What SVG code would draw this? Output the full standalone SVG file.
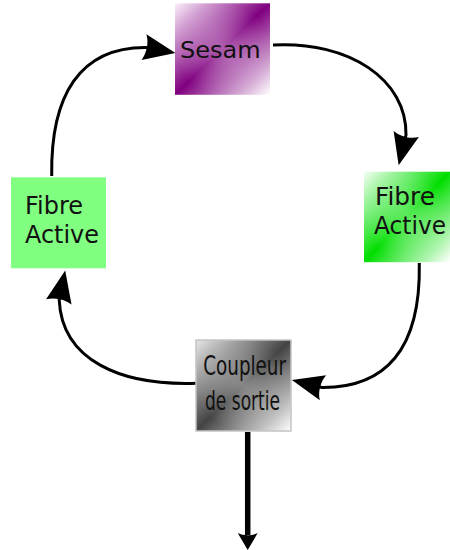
<svg xmlns="http://www.w3.org/2000/svg" width="450" height="550" viewBox="0 0 450 550">
  <style>
    .lbl { font-family: "DejaVu Sans", "Liberation Sans", sans-serif; fill: #111; }
    .cond { font-family: "DejaVu Sans Condensed", "DejaVu Sans", "Liberation Sans", sans-serif; font-stretch: condensed; fill: #111; }
    .conn { fill: none; stroke: #000; stroke-width: 3; }
    .out { fill: none; stroke: #000; stroke-width: 5.5; }
  </style>
  <defs>
    <linearGradient id="gPurple" x1="0" y1="0" x2="1" y2="1">
      <stop offset="0" stop-color="#fbf0fb"/>
      <stop offset="0.5" stop-color="#800080"/>
      <stop offset="1" stop-color="#ffffff"/>
    </linearGradient>
    <linearGradient id="gGreen" x1="0" y1="0" x2="1" y2="1">
      <stop offset="0" stop-color="#f4fff4"/>
      <stop offset="0.5" stop-color="#00de00"/>
      <stop offset="1" stop-color="#ffffff"/>
    </linearGradient>
    <linearGradient id="gGray" x1="0" y1="0" x2="1" y2="1">
      <stop offset="0" stop-color="#e6e6e6"/>
      <stop offset="0.5" stop-color="#444444"/>
      <stop offset="1" stop-color="#ffffff"/>
    </linearGradient>
    <radialGradient id="gGlow" cx="0.5" cy="0.5" r="0.5">
      <stop offset="0" stop-color="#ffffff" stop-opacity="0.35"/>
      <stop offset="1" stop-color="#ffffff" stop-opacity="0"/>
    </radialGradient>
    <marker id="arrow" markerUnits="userSpaceOnUse" orient="auto" refX="0" refY="0" markerWidth="40" markerHeight="40" overflow="visible">
      <path d="M27,0 L-5,-13 C-1,-5 -1,5 -5,13 Z" fill="#000"/>
    </marker>
    <marker id="arrowOut" markerUnits="userSpaceOnUse" orient="auto" refX="0" refY="0" markerWidth="30" markerHeight="30" overflow="visible">
      <path d="M15,0 L-2,-10 C1,-4 1,4 -2,10 Z" fill="#000"/>
    </marker>
  </defs>

  <g id="connectors">
    <path class="conn" d="M51.7,176 C50.5,95 80,47 146,47.5 l2.9,0.55" marker-end="url(#arrow)"/>
    <path class="conn" d="M273,45 C350,41 407,80 406,135 l-0.95,3.9" marker-end="url(#arrow)"/>
    <path class="conn" d="M419.3,263 C421,350 385,388 322,387.5 l-3.88,-0.97" marker-end="url(#arrow)"/>
    <path class="conn" d="M196.7,383.3 C120,386 62,360 59.2,300 l0.6,-2.94" marker-end="url(#arrow)"/>
    <path class="out" d="M247.7,432 L247.7,535" marker-end="url(#arrowOut)"/>
  </g>

  <g id="sesam">
    <rect x="175" y="3.3" width="95" height="91.5" fill="url(#gPurple)"/>
    <rect x="175" y="3.3" width="95" height="91.5" fill="url(#gGlow)"/>
    <text class="lbl" x="180" y="58.3" font-size="23.5" textLength="80.7" lengthAdjust="spacingAndGlyphs">Sesam</text>
  </g>

  <g id="fibre-left">
    <rect x="11" y="177.3" width="95" height="91" fill="#80ff80"/>
    <text class="lbl" x="25" y="214" font-size="25" textLength="58" lengthAdjust="spacingAndGlyphs">Fibre</text>
    <text class="lbl" x="25" y="242.7" font-size="25" textLength="74" lengthAdjust="spacingAndGlyphs">Active</text>
  </g>

  <g id="fibre-right">
    <rect x="364" y="171.7" width="86" height="90.5" fill="url(#gGreen)"/>
    <rect x="364" y="171.7" width="86" height="90.5" fill="url(#gGlow)"/>
    <text class="lbl" x="375" y="205" font-size="24.5" textLength="60" lengthAdjust="spacingAndGlyphs">Fibre</text>
    <text class="lbl" x="374" y="234" font-size="24" textLength="72" lengthAdjust="spacingAndGlyphs">Active</text>
  </g>

  <g id="coupleur">
    <rect x="196" y="340" width="95" height="91" fill="url(#gGray)" stroke="#c4c4c4" stroke-width="1.5"/>
    <rect x="196" y="340" width="95" height="91" fill="url(#gGlow)"/>
    <text class="cond" x="203.3" y="375" font-size="27" textLength="82.7" lengthAdjust="spacingAndGlyphs">Coupleur</text>
    <text class="cond" x="205" y="410" font-size="27" textLength="75" lengthAdjust="spacingAndGlyphs">de sortie</text>
  </g>
</svg>
